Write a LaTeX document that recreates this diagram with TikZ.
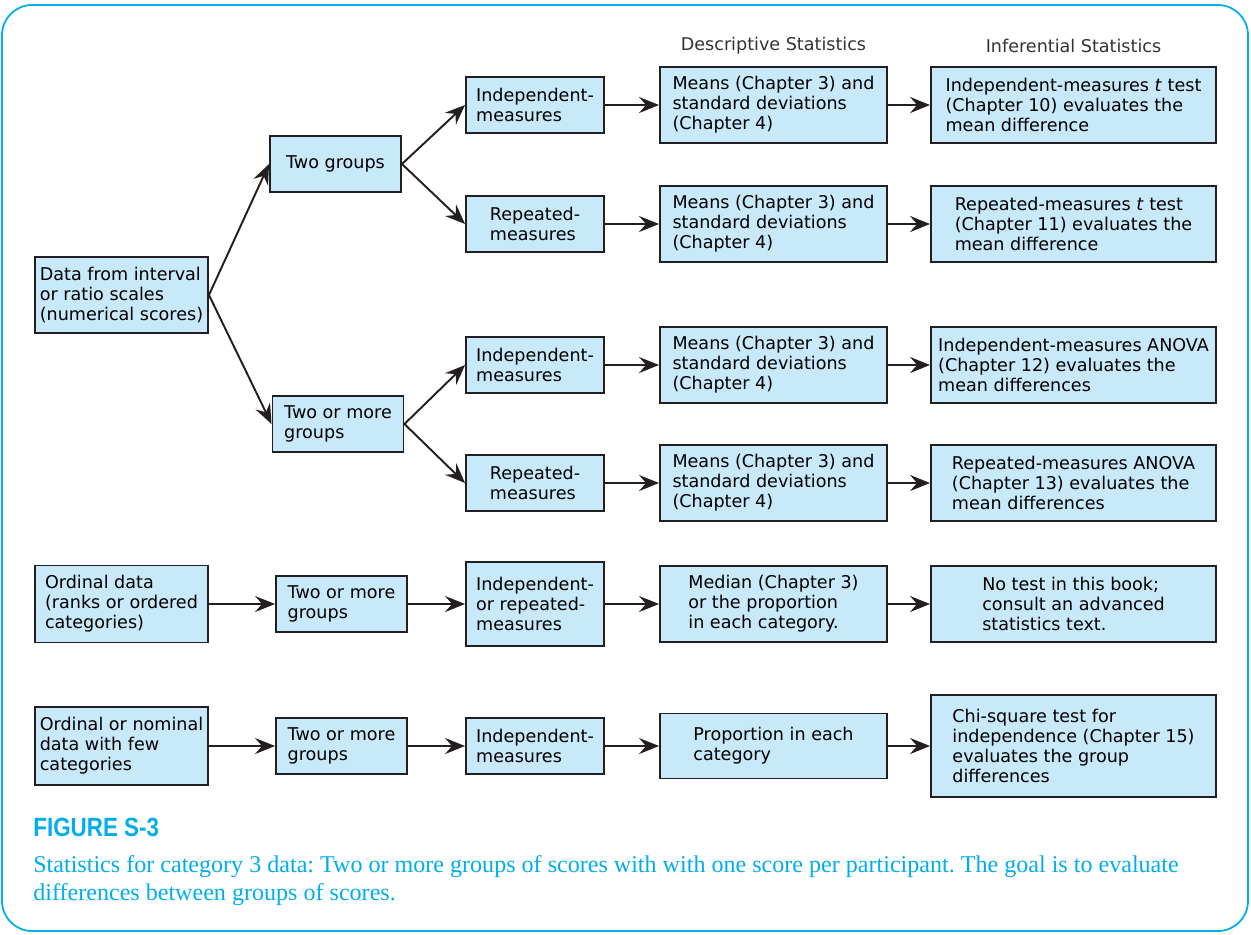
\documentclass[tikz,border=0pt]{standalone}
\usepackage{fontspec}
\usepackage{xcolor}
\usepackage{tikz}
\usetikzlibrary{positioning,arrows.meta}
\setmainfont{DejaVu Sans}
\newfontfamily\capfont{Liberation Serif}
\newfontfamily\figfont[FakeStretch=0.85]{Liberation Sans}
\definecolor{boxfill}{RGB}{199, 233, 249}
\definecolor{boxline}{RGB}{35, 31, 32}
\definecolor{frameblue}{RGB}{0, 174, 239}
\frenchspacing

\begin{document}
\begin{tikzpicture}[x=0.02cm, y=-0.02cm,
  every node/.style={font=\fontsize{10}{11.4}\selectfont},
  box/.style={draw=boxline, fill=boxfill, line width=1.1pt, align=left, inner sep=2pt},
  smallbox/.style={box, minimum width=2.62cm, minimum height=1.12cm},
  measbox/.style={box, minimum width=2.76cm, minimum height=1.12cm},
  descbox/.style={box, minimum width=4.54cm, minimum height=1.52cm},
  infbox/.style={box, minimum width=5.7cm, minimum height=1.52cm},
  arr/.style={-{Stealth[length=4mm, width=3.2mm, inset=1.4mm]}, line width=1.1pt, draw=boxline}]
\useasboundingbox (0,0) rectangle (1251,934);
% Frame
\draw[frameblue, line width=1pt, rounded corners=0.6cm] (2,5) rectangle (1248,931);

% Column headings
\node[text=black!80] (deschead) at (773.5,46) {Descriptive Statistics};
\node[text=black!80] (infhead) at (1073.5,46) {Inferential Statistics};

% Data types
\node[box, minimum width=3.46cm, minimum height=1.52cm] (interval) at (121.5,295) {Data from interval\\or ratio scales\\(numerical scores)};
\node[box, minimum width=3.46cm, minimum height=1.54cm] (ordinal) at (121.5,604) {Ordinal data\\(ranks or ordered\\categories)};
\node[box, minimum width=3.46cm, minimum height=1.56cm] (nominal) at (121.5,746) {Ordinal or nominal\\data with few\\categories};

% Number of groups
\node[smallbox] (two) at (335.5,164) {Two groups};
\node[smallbox] (twomoreA) at (338,424) {Two or more\\groups};
\node[smallbox] (twomoreB) at (341.5,604) {Two or more\\groups};
\node[smallbox] (twomoreC) at (341.5,746) {Two or more\\groups};

% Design
\node[measbox] (indepA) at (535,105) {Independent-\\measures};
\node[measbox] (repA) at (535,224) {Repeated-\\measures};
\node[measbox] (indepB) at (535,365) {Independent-\\measures};
\node[measbox] (repB) at (535,483) {Repeated-\\measures};
\node[measbox, minimum height=1.68cm] (indrep) at (535,604) {Independent-\\or repeated-\\measures};
\node[measbox] (indepC) at (535,746) {Independent-\\measures};

% Descriptive statistics
\node[descbox] (meansA) at (773.5,105) {Means (Chapter 3) and\\standard deviations\\(Chapter 4)};
\node[descbox] (meansB) at (773.5,224) {Means (Chapter 3) and\\standard deviations\\(Chapter 4)};
\node[descbox] (meansC) at (773.5,365) {Means (Chapter 3) and\\standard deviations\\(Chapter 4)};
\node[descbox] (meansD) at (773.5,483) {Means (Chapter 3) and\\standard deviations\\(Chapter 4)};
\node[descbox] (median) at (773.5,604) {Median (Chapter 3)\\or the proportion\\in each category.};
\node[descbox, minimum height=1.3cm] (prop) at (773.5,746) {Proportion in each\\category};

% Inferential statistics
\node[infbox] (ttestA) at (1073.5,105) {Independent-measures \textit{t} test\\(Chapter 10) evaluates the\\mean difference};
\node[infbox] (ttestB) at (1073.5,224) {Repeated-measures \textit{t} test\\(Chapter 11) evaluates the\\mean difference};
\node[infbox] (anovaA) at (1073.5,365) {Independent-measures ANOVA\\(Chapter 12) evaluates the\\mean differences};
\node[infbox] (anovaB) at (1073.5,483) {Repeated-measures ANOVA\\(Chapter 13) evaluates the\\mean differences};
\node[infbox] (notest) at (1073.5,604) {No test in this book;\\consult an advanced\\statistics text.};
\node[infbox, minimum height=2.04cm] (chisq) at (1073.5,746) {Chi-square test for\\independence (Chapter 15)\\evaluates the group\\differences};

% Arrows
\draw[arr] (interval.east) -- (two.west);
\draw[arr] (interval.east) -- (twomoreA.west);
\draw[arr] (two.east) -- (indepA.west);
\draw[arr] (two.east) -- (repA.west);
\draw[arr] (twomoreA.east) -- (indepB.west);
\draw[arr] (twomoreA.east) -- (repB.west);
\draw[arr] (ordinal) -- (twomoreB);
\draw[arr] (twomoreB) -- (indrep);
\draw[arr] (nominal) -- (twomoreC);
\draw[arr] (twomoreC) -- (indepC);
\draw[arr] (indepA) -- (meansA);
\draw[arr] (repA) -- (meansB);
\draw[arr] (indepB) -- (meansC);
\draw[arr] (repB) -- (meansD);
\draw[arr] (indrep) -- (median);
\draw[arr] (indepC) -- (prop);
\draw[arr] (meansA) -- (ttestA);
\draw[arr] (meansB) -- (ttestB);
\draw[arr] (meansC) -- (anovaA);
\draw[arr] (meansD) -- (anovaB);
\draw[arr] (median) -- (notest);
\draw[arr] (prop) -- (chisq);

% Caption
\node[anchor=west, inner sep=0pt, text=frameblue, font=\figfont\bfseries\fontsize{15}{17}\selectfont] (figlabel) at (33,827) {FIGURE S-3};
\node[anchor=north west, inner sep=0pt, align=left, text=frameblue, font=\capfont\fontsize{13.7}{15.9}\selectfont] (caption) at (33,855) {Statistics for category 3 data: Two or more groups of scores with with one score per participant. The goal is to evaluate\\differences between groups of scores.};
\end{tikzpicture}
\end{document}
